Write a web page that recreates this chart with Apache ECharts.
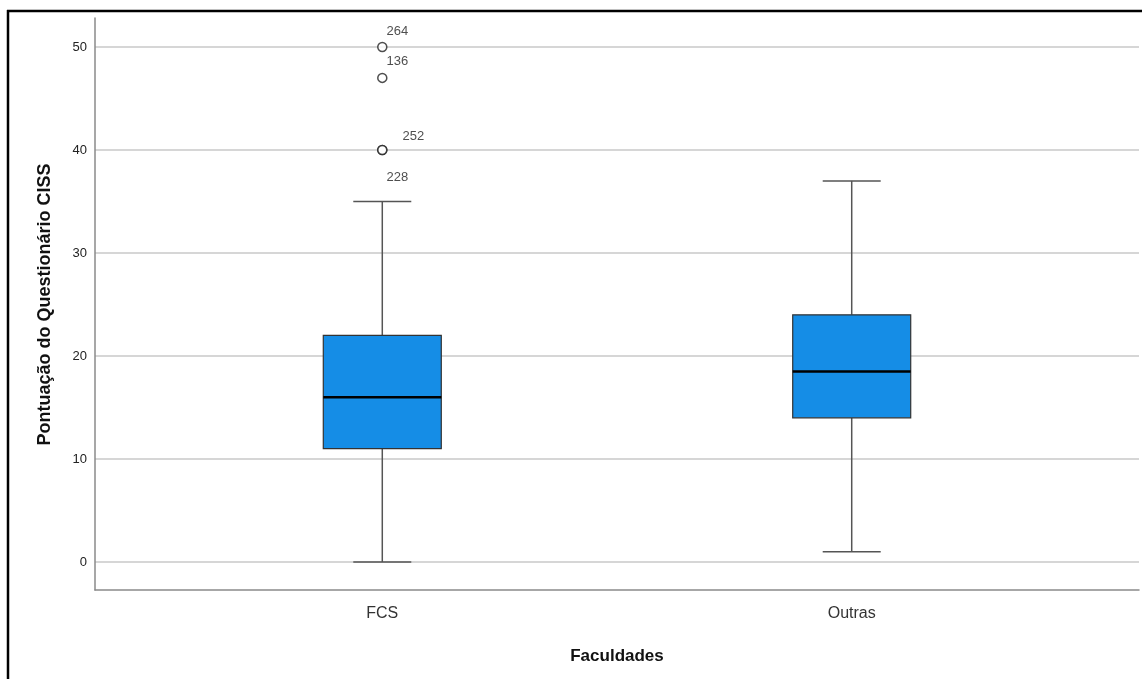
<!DOCTYPE html>
<html><head><meta charset="utf-8">
<script src="https://cdn.jsdelivr.net/npm/echarts@6/dist/echarts.min.js"></script>
<style>html,body{margin:0;padding:0;background:#fff}#c{width:1142px;height:679px}</style>
</head><body><div id="c"></div>
<script>
var categories = ['FCS', 'Outras'];
// [low whisker, Q1, median, Q3, high whisker]
var boxStats = [
  [0, 11, 16, 22, 35],
  [1, 14, 18.5, 24, 37]
];
// outliers: [category index, value, case label]
var outliers = [
  [0, 50, '264'],
  [0, 47, '136'],
  [0, 40, '252'],
  [0, 40, '228']
];
var yTicks = [0, 10, 20, 30, 40, 50];

var FONT = 'Liberation Sans, Arial, sans-serif';
var labelOffsets = [[15, -16], [15, -16], [31, -14], [15, 27]];

var chart = echarts.init(document.getElementById('c'));
chart.setOption({
  animation: false,
  backgroundColor: '#fff',
  grid: [
    {left: 95, right: 3, top: 47, bottom: 117},
    {left: 95, right: 3, top: 18, bottom: 89}
  ],
  xAxis: [
    {gridIndex: 0, type: 'value', min: -0.612, max: 1.612,
     axisLine: {show: false}, axisTick: {show: false}, splitLine: {show: false},
     axisLabel: {customValues: [0, 1], formatter: function (v) { return categories[Math.round(v)]; },
       color: '#333', fontFamily: FONT, fontSize: 16, margin: 44},
     name: 'Faculdades', nameLocation: 'middle', nameGap: 86,
     nameTextStyle: {fontFamily: FONT, fontSize: 17, fontWeight: 'bold', color: '#111'}},
    {gridIndex: 1, type: 'value', min: 0, max: 1,
     axisLine: {show: true, lineStyle: {color: '#8a8a8a', width: 1.5}},
     axisTick: {show: false}, axisLabel: {show: false}, splitLine: {show: false}}
  ],
  yAxis: [
    {gridIndex: 0, type: 'value', min: 0, max: 50, interval: 10,
     axisLine: {show: false}, axisTick: {show: false},
     splitLine: {show: true, lineStyle: {color: '#c8c8c8', width: 1.5}},
     axisLabel: {color: '#222', fontFamily: FONT, fontSize: 13, margin: 8,
       formatter: function (v) { return yTicks.indexOf(v) >= 0 ? String(v) : ''; }},
     name: 'Pontuação do Questionário CISS', nameLocation: 'middle', nameGap: 41,
     nameTextStyle: {fontFamily: FONT, fontSize: 18, fontWeight: 'bold', color: '#111'}},
    {gridIndex: 1, type: 'value', min: 0, max: 1,
     axisLine: {show: true, lineStyle: {color: '#8a8a8a', width: 1.5}},
     axisTick: {show: false}, axisLabel: {show: false}, splitLine: {show: false}}
  ],
  series: [
    {
      type: 'custom', xAxisIndex: 0, yAxisIndex: 0,
      data: boxStats.map(function (s, i) { return [i].concat(s); }),
      renderItem: function (params, api) {
        var x = api.value(0);
        var pLow = api.coord([x, api.value(1)]);
        var pQ1 = api.coord([x, api.value(2)]);
        var pMed = api.coord([x, api.value(3)]);
        var pQ3 = api.coord([x, api.value(4)]);
        var pHigh = api.coord([x, api.value(5)]);
        var cx = pLow[0];
        var hw = 59, cw = 29;
        var wStyle = {stroke: '#555', lineWidth: 1.5};
        return {type: 'group', children: [
          {type: 'line', shape: {x1: cx, y1: pHigh[1], x2: cx, y2: pQ3[1]}, style: wStyle},
          {type: 'line', shape: {x1: cx, y1: pQ1[1], x2: cx, y2: pLow[1]}, style: wStyle},
          {type: 'line', shape: {x1: cx - cw, y1: pHigh[1], x2: cx + cw, y2: pHigh[1]}, style: wStyle},
          {type: 'line', shape: {x1: cx - cw, y1: pLow[1], x2: cx + cw, y2: pLow[1]}, style: wStyle},
          {type: 'rect', shape: {x: cx - hw, y: pQ3[1], width: 2 * hw, height: pQ1[1] - pQ3[1]},
           style: {fill: '#158de6', stroke: '#333', lineWidth: 1.2}},
          {type: 'line', shape: {x1: cx - hw, y1: pMed[1], x2: cx + hw, y2: pMed[1]},
           style: {stroke: '#000', lineWidth: 2.5}}
        ]};
      }
    },
    {
      type: 'scatter', xAxisIndex: 0, yAxisIndex: 0,
      symbol: 'circle', symbolSize: 9,
      itemStyle: {color: '#fff', borderColor: '#222', borderWidth: 1.5},
      data: outliers.map(function (o, i) {
        return {value: [o[0], o[1]], label: {show: true, formatter: o[2],
          position: 'inside', offset: labelOffsets[i],
          color: '#222', fontFamily: FONT, fontSize: 13}};
      })
    }
  ],
  graphic: [
    {type: 'line', shape: {x1: 7, y1: 11, x2: 1142, y2: 11}, style: {stroke: '#000', lineWidth: 2.5}},
    {type: 'line', shape: {x1: 8, y1: 10, x2: 8, y2: 679}, style: {stroke: '#000', lineWidth: 2.5}}
  ]
});
</script></body></html>
